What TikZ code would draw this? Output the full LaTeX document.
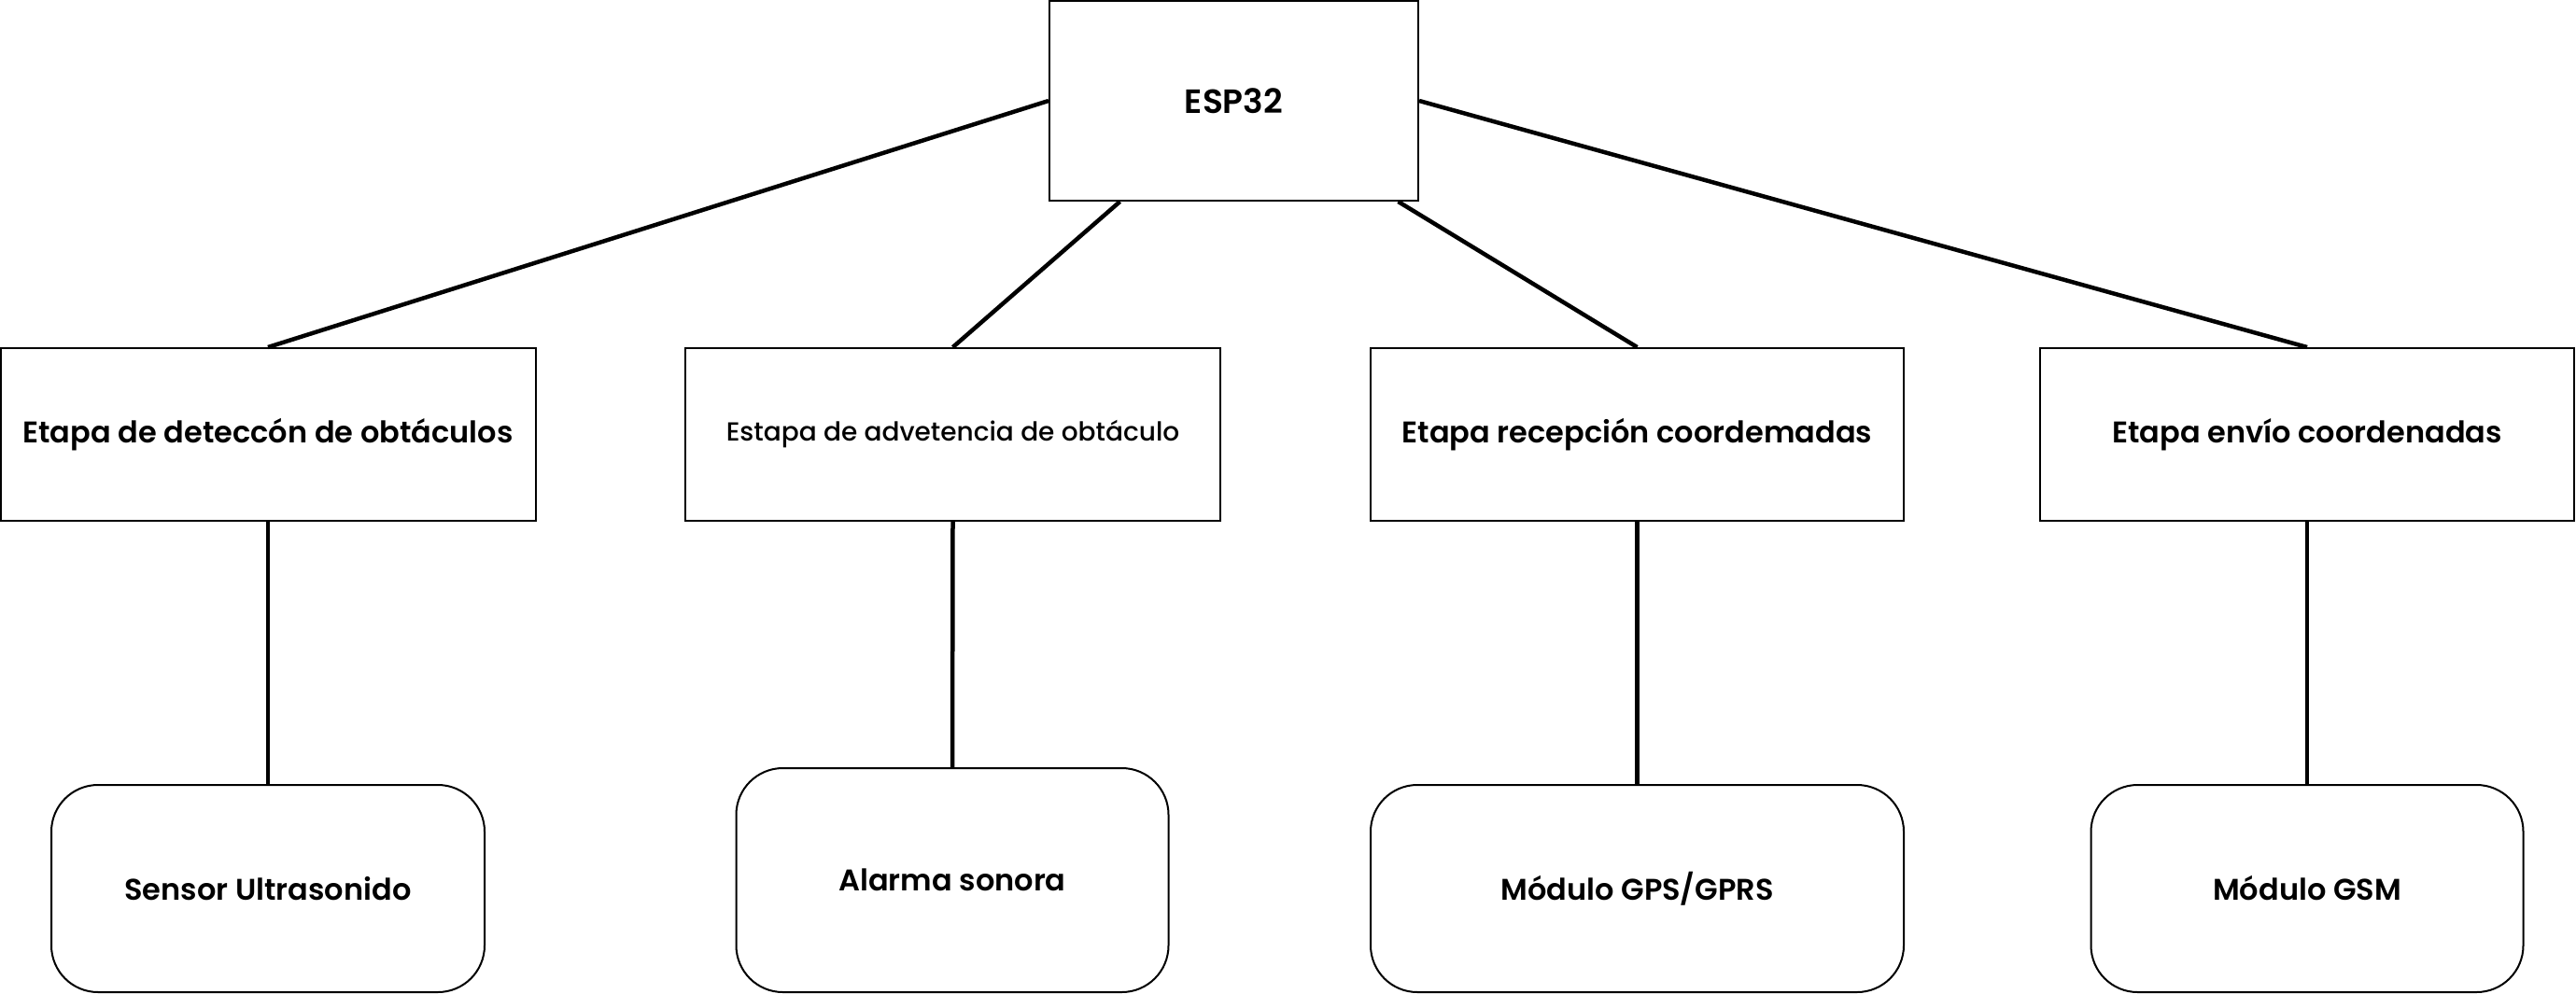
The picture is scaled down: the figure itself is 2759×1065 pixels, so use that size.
\documentclass[tikz,border=0pt]{standalone}
\usepackage{fontspec}
\setmainfont{Poppins}[UprightFont=* Medium, BoldFont=* SemiBold]
\begin{document}
\begin{tikzpicture}[x=1pt,y=-1pt,
  box/.style={draw=black, line width=2pt, rectangle, inner sep=0pt, align=center, fill=white},
  rbox/.style={draw=black, line width=2pt, rectangle, rounded corners=50pt, inner sep=0pt, align=center, fill=white},
  link/.style={draw=black, line width=4.5pt},
  lbl/.style={font=\fontsize{32}{38}\selectfont\bfseries},
  lblsmall/.style={font=\fontsize{28}{34}\selectfont}
]
\fill[white] (0,0) rectangle (2759,1065);
\useasboundingbox (0,0) rectangle (2759,1065);

% top node
\node[box, minimum width=395pt, minimum height=214pt, font=\fontsize{36}{42}\selectfont\bfseries] (esp) at (1321.5,108) {ESP32};

% stage nodes
\node[box, lbl, minimum width=573pt, minimum height=185pt] (s1) at (287,465.5) {Etapa de deteccón de obtáculos};
\node[box, lblsmall, minimum width=573pt, minimum height=185pt] (s2) at (1020.5,465.5) {Estapa de advetencia de obtáculo};
\node[box, lbl, minimum width=571pt, minimum height=185pt] (s3) at (1753.5,465.5) {Etapa recepción coordemadas};
\node[box, lbl, minimum width=572pt, minimum height=185pt] (s4) at (2471,465.5) {Etapa envío coordenadas};

% module nodes
\node[rbox, lbl, minimum width=464pt, minimum height=222pt] (m1) at (287,952) {Sensor Ultrasonido};
\node[rbox, lbl, minimum width=463pt, minimum height=240pt] (m2) at (1020,943) {Alarma sonora};
\node[rbox, lbl, minimum width=571pt, minimum height=222pt] (m3) at (1753.5,952) {Módulo GPS/GPRS};
\node[rbox, lbl, minimum width=463pt, minimum height=222pt] (m4) at (2471,952) {Módulo GSM};

% connectors
\draw[link] (esp.west) -- (s1.north);
\draw[link] ([xshift=-122pt]esp.south) -- (s2.north);
\draw[link] ([xshift=176pt]esp.south) -- (s3.north);
\draw[link] (esp.east) -- (s4.north);

\draw[link] (s1.south) -- (m1.north);
\draw[link] (s2.south) -- (m2.north);
\draw[link] (s3.south) -- (m3.north);
\draw[link] (s4.south) -- (m4.north);
\end{tikzpicture}
\end{document}
